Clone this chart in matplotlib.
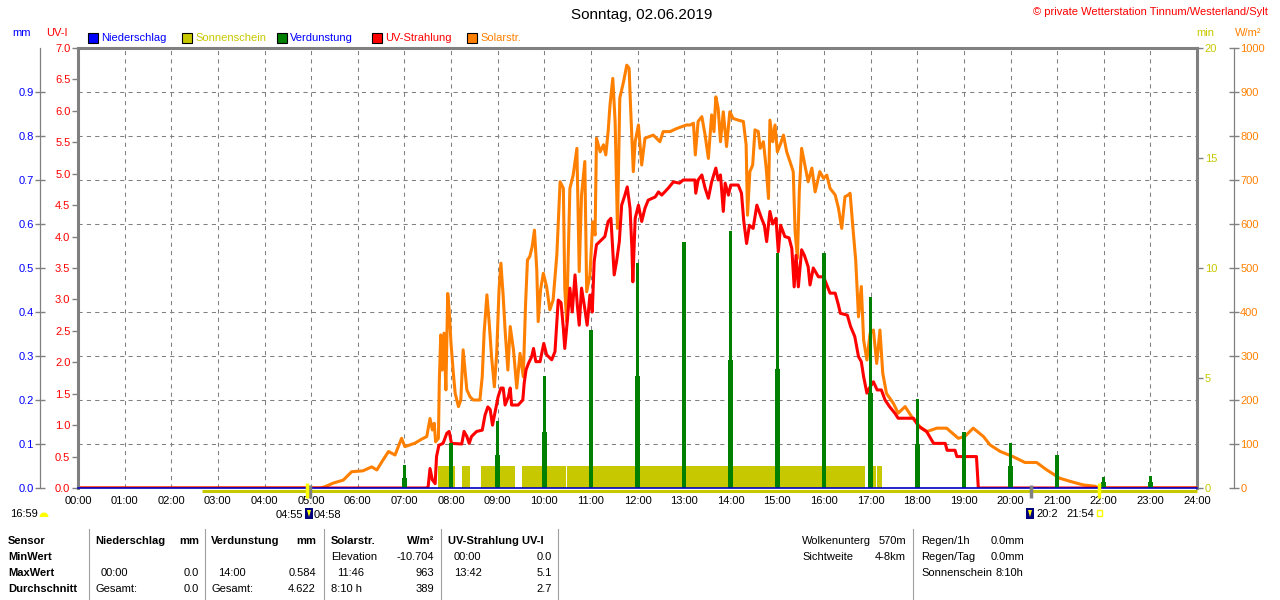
import matplotlib
matplotlib.use("Agg")
import matplotlib.pyplot as plt
import matplotlib.transforms as mtransforms
from matplotlib.lines import Line2D
from matplotlib.patches import Rectangle, Polygon, Wedge
from matplotlib.ticker import FormatStrFormatter
import numpy as np

plt.rcParams["font.family"] = ["Liberation Sans", "DejaVu Sans"]
plt.rcParams["font.size"] = 8

W, H = 1280, 600

BLUE = "#0000ff"
NAVY = "#0000c0"
SUN = "#c8c800"
GREEN = "#008000"
RED = "#ff0000"
ORANGE = "#ff8000"
GRAY = "#808080"

# ---- data, time in hours ----
hours = list(range(25))
hour_labels = ["%02d:00" % h for h in hours]

solar_t = [0.00, 5.20, 5.30, 5.47, 5.69, 5.87, 6.11, 6.30, 6.41, 6.52, 6.66, 6.80,
           6.94, 7.01, 7.23, 7.37, 7.48, 7.55, 7.60, 7.64, 7.67, 7.73, 7.75, 7.78,
           7.81, 7.85, 7.89, 7.93, 7.96, 8.00, 8.05, 8.09, 8.16, 8.21, 8.26, 8.30,
           8.34, 8.41, 8.48, 8.62, 8.67, 8.71, 8.77, 8.82, 8.87, 8.93, 8.98, 9.03,
           9.07, 9.12, 9.16, 9.22, 9.27, 9.34, 9.41, 9.48, 9.55, 9.60, 9.64, 9.69,
           9.74, 9.79, 9.84, 9.87, 9.92, 9.98, 10.05, 10.12, 10.19, 10.27, 10.34, 10.41,
           10.44, 10.48, 10.55, 10.62, 10.70, 10.75, 10.80, 10.87, 10.91, 10.98, 11.04, 11.09,
           11.12, 11.20, 11.27, 11.32, 11.37, 11.41, 11.47, 11.52, 11.57, 11.62, 11.70, 11.77,
           11.82, 11.85, 11.91, 11.95, 12.02, 12.09, 12.16, 12.34, 12.48, 12.55, 12.70, 12.84,
           13.05, 13.13, 13.20, 13.24, 13.30, 13.38, 13.45, 13.52, 13.59, 13.64, 13.68, 13.73,
           13.78, 13.84, 13.91, 13.98, 14.05, 14.16, 14.27, 14.33, 14.36, 14.41, 14.47, 14.52,
           14.59, 14.63, 14.70, 14.76, 14.81, 14.84, 14.90, 14.95, 15.00, 15.06, 15.13, 15.20,
           15.27, 15.34, 15.38, 15.43, 15.47, 15.52, 15.59, 15.66, 15.74, 15.81, 15.91, 15.99,
           16.06, 16.13, 16.24, 16.31, 16.38, 16.45, 16.52, 16.56, 16.63, 16.68, 16.74, 16.80,
           16.85, 16.92, 16.99, 17.06, 17.13, 17.20, 17.26, 17.34, 17.49, 17.59, 17.74, 17.88,
           18.06, 18.20, 18.42, 18.63, 18.88, 19.02, 19.20, 19.42, 19.56, 19.78, 20.06, 20.31,
           20.56, 20.78, 21.06, 21.35, 21.56, 21.81, 21.90, 24.00]
solar_wm2 = [0, 0, 3, 11, 18, 37, 39, 48, 41, 60, 83, 75,
             113, 94, 102, 111, 117, 158, 132, 147, 105, 113, 245, 348,
             268, 352, 223, 442, 405, 329, 261, 215, 185, 200, 314, 268,
             223, 207, 200, 200, 253, 352, 439, 374, 298, 230, 306, 450,
             511, 435, 359, 268, 367, 314, 227, 306, 253, 420, 518, 526,
             548, 586, 495, 378, 450, 488, 458, 405, 427, 530, 696, 681,
             454, 378, 681, 711, 772, 492, 666, 742, 446, 484, 605, 575,
             795, 764, 780, 757, 810, 870, 931, 833, 590, 886, 923, 961,
             954, 870, 719, 787, 825, 734, 795, 802, 787, 810, 810, 817,
             825, 825, 829, 757, 833, 844, 802, 749, 848, 810, 889, 863,
             787, 855, 776, 855, 840, 836, 833, 780, 620, 719, 734, 814,
             810, 772, 787, 727, 658, 836, 787, 825, 764, 780, 802, 764,
             742, 719, 583, 522, 673, 772, 734, 696, 727, 673, 719, 704,
             711, 681, 666, 636, 590, 662, 666, 670, 579, 518, 389, 458,
             336, 291, 352, 359, 283, 359, 261, 215, 192, 170, 185, 162,
             139, 128, 136, 136, 113, 117, 136, 117, 98, 83, 71, 58,
             58, 41, 22, 13, 7, 4, 0, 0]

uv_t = [0.00, 7.50, 7.51, 7.55, 7.60, 7.66, 7.69, 7.74, 7.83, 7.91, 7.96, 8.01,
        8.23, 8.28, 8.34, 8.39, 8.44, 8.55, 8.67, 8.73, 8.79, 8.84, 8.89, 8.94,
        9.01, 9.07, 9.12, 9.16, 9.23, 9.27, 9.30, 9.44, 9.54, 9.57, 9.61, 9.66,
        9.73, 9.77, 9.82, 9.91, 9.99, 10.05, 10.16, 10.23, 10.30, 10.36, 10.41, 10.44,
        10.50, 10.55, 10.60, 10.66, 10.71, 10.75, 10.80, 10.86, 10.92, 10.98, 11.03, 11.07,
        11.12, 11.23, 11.30, 11.37, 11.43, 11.50, 11.55, 11.61, 11.66, 11.73, 11.78, 11.84,
        11.88, 11.90, 11.95, 12.02, 12.09, 12.16, 12.23, 12.38, 12.45, 12.52, 12.66, 12.77,
        12.90, 12.98, 13.23, 13.25, 13.30, 13.38, 13.45, 13.52, 13.59, 13.68, 13.73, 13.78,
        13.84, 13.88, 13.95, 14.00, 14.16, 14.23, 14.28, 14.34, 14.40, 14.48, 14.56, 14.66,
        14.72, 14.77, 14.84, 14.90, 14.97, 15.02, 15.07, 15.16, 15.25, 15.31, 15.36, 15.40,
        15.45, 15.52, 15.58, 15.66, 15.70, 15.77, 15.88, 15.99, 16.06, 16.13, 16.24, 16.31,
        16.35, 16.50, 16.57, 16.66, 16.74, 16.80, 16.85, 16.92, 16.99, 17.06, 17.14, 17.23,
        17.31, 17.41, 17.52, 17.59, 17.92, 18.03, 18.20, 18.35, 18.60, 18.64, 18.81, 18.85,
        19.27, 19.30, 19.31, 24.00]
uv_index = [0.0, 0.0, 0.02, 0.31, 0.13, 0.07, 0.50, 0.68, 0.71, 0.87, 0.90, 0.71,
            0.70, 0.90, 0.82, 0.71, 0.82, 0.90, 0.92, 1.16, 1.29, 1.25, 1.00, 1.19,
            1.45, 1.59, 1.59, 1.32, 1.45, 1.59, 1.32, 1.32, 1.40, 1.67, 1.88, 1.98,
            2.09, 2.22, 2.01, 2.01, 2.30, 2.12, 2.04, 2.17, 2.99, 2.95, 2.54, 2.22,
            2.70, 3.18, 2.80, 3.39, 2.90, 2.59, 3.18, 2.90, 2.59, 3.07, 2.80, 3.60,
            3.87, 3.95, 4.00, 4.24, 4.29, 3.39, 3.60, 3.92, 4.50, 4.66, 4.79, 4.45,
            3.81, 3.28, 4.29, 4.50, 4.24, 4.45, 4.58, 4.63, 4.71, 4.66, 4.77, 4.87,
            4.85, 4.90, 4.90, 4.69, 4.90, 4.98, 4.77, 4.61, 4.87, 5.09, 4.90, 4.98,
            4.40, 4.85, 4.66, 4.82, 4.82, 4.69, 4.24, 3.89, 4.18, 4.13, 4.50, 4.29,
            4.18, 3.92, 4.40, 4.20, 4.29, 3.76, 4.18, 4.00, 3.98, 3.81, 3.20, 3.70,
            3.20, 3.79, 3.70, 3.52, 3.23, 3.50, 3.36, 3.36, 3.23, 3.10, 3.10, 2.91,
            2.78, 2.75, 2.57, 2.41, 2.09, 2.01, 1.77, 1.51, 1.61, 1.69, 1.56, 1.56,
            1.40, 1.29, 1.19, 1.11, 1.11, 0.98, 0.90, 0.71, 0.71, 0.60, 0.60, 0.50,
            0.50, 0.13, 0.0, 0.0]

evap_hours = [7, 8, 9, 10, 11, 12, 13, 14, 15, 16, 17, 18, 19, 20, 21, 22, 23]
evap_mm = [0.052, 0.103, 0.153, 0.255, 0.358, 0.511, 0.560, 0.584, 0.535,
           0.535, 0.433, 0.202, 0.128, 0.103, 0.075, 0.026, 0.027]
evap_step_mm = [0.023, 0.050, 0.075, 0.128, 0.180, 0.255, 0.280, 0.290, 0.270,
                0.270, 0.216, 0.100, 0.064, 0.050, 0.034, 0.013, 0.013]

sun_start = [7.72, 8.23, 8.65, 9.53, 10.49, 17.03, 17.14]
sun_end = [8.09, 8.41, 9.38, 10.47, 16.88, 17.11, 17.24]
sun_minutes = [1, 1, 1, 1, 1, 1, 1]

rain_t = [0, 24]
rain_mm = [0.0, 0.0]

daylight_t = [2.66, 24.0]
sun_marks = [4.917, 21.9]    # sunrise 04:55, sunset 21:54
moon_marks = [4.967, 20.45]  # 04:58, 20:2x

# pixel coordinates (from top-left) -> figure
pix = mtransforms.Affine2D().scale(1.0 / W, -1.0 / H).translate(0, 1)

fig = plt.figure(figsize=(W / 100, H / 100), dpi=100)
pix = pix + fig.transFigure
rect = [78 / W, 112 / H, 1119 / W, 440 / H]
ax_min = fig.add_axes(rect)
ax_sol = fig.add_axes(rect, sharex=ax_min)
ax_uv = fig.add_axes(rect, sharex=ax_min)
ax_mm = fig.add_axes(rect, sharex=ax_min)
for z, ax in enumerate([ax_min, ax_sol, ax_uv, ax_mm]):
    ax.set_zorder(z + 1)
    ax.patch.set_visible(False)
    for s in ax.spines.values():
        s.set_visible(False)

ax_min.set_xlim(0, 24)
ax_min.set_ylim(0, 20)
ax_sol.set_ylim(0, 1000)
ax_uv.set_ylim(0, 7)
ax_mm.set_ylim(0, 1)

# sunshine minutes (bottom layer) + grid
ax_min.bar(sun_start, sun_minutes, width=[e - s for s, e in zip(sun_start, sun_end)],
           align="edge", color=SUN, linewidth=0)
ax_min.set_xticks(hours)
ax_min.set_xticklabels(hour_labels)
ax_min.tick_params(axis="x", length=0, pad=5.5, labelsize=8)
ax_min.yaxis.tick_right()
ax_min.set_yticks([0, 5, 10, 15, 20])
ax_min.set_yticks(np.arange(0, 21, 2), minor=True)
ax_min.tick_params(axis="y", which="major", colors=GRAY, labelcolor=SUN,
                   length=4, width=1, pad=1.5, labelsize=8)
ax_min.tick_params(axis="y", which="minor", length=0)
ax_min.grid(axis="x", which="major", color=GRAY, lw=0.75, ls=(0, (4, 4)))
ax_min.yaxis.grid(True, which="minor", color=GRAY, lw=0.75, ls=(0, (4, 4)))
ax_min.yaxis.grid(False, which="major")
for side in ("top", "right"):
    ax_min.spines[side].set_visible(True)
    ax_min.spines[side].set_color(GRAY)
    ax_min.spines[side].set_linewidth(2.2)
off = mtransforms.offset_copy(ax_min.transData, fig=fig, x=0, y=-2.5, units="dots")
ax_min.plot(daylight_t, [0, 0], color=SUN, lw=2.2, transform=off, clip_on=False,
            solid_capstyle="butt")

# solar radiation
ax_sol.plot(solar_t, solar_wm2, color=ORANGE, lw=2.2)
ax_sol.yaxis.tick_right()
ax_sol.set_yticks(np.arange(0, 1001, 100))
ax_sol.tick_params(axis="y", direction="inout", length=7, width=1, colors=GRAY,
                   labelcolor=ORANGE, pad=1, labelsize=8)
ax_sol.tick_params(axis="x", bottom=False, labelbottom=False)
ax_sol.spines["right"].set_visible(True)
ax_sol.spines["right"].set_position(("outward", 26.6))
ax_sol.spines["right"].set_color(GRAY)
ax_sol.spines["right"].set_linewidth(0.9)

# UV index
ax_uv.plot(uv_t, uv_index, color=RED, lw=2.2)
ax_uv.set_yticks(np.arange(0, 7.01, 0.5))
ax_uv.yaxis.set_major_formatter(FormatStrFormatter("%.1f"))
ax_uv.tick_params(axis="y", colors=GRAY, labelcolor=RED, length=4, width=1, pad=1.5,
                  labelsize=8)
ax_uv.tick_params(axis="x", bottom=False, labelbottom=False)
ax_uv.spines["left"].set_visible(True)
ax_uv.spines["left"].set_color(GRAY)
ax_uv.spines["left"].set_linewidth(2.2)

# evaporation + precipitation (top layer)
ax_mm.bar(evap_hours, evap_step_mm, width=0.10, color=GREEN, linewidth=0)
ax_mm.bar(evap_hours, evap_mm, width=0.07, color=GREEN, linewidth=0)
ax_mm.plot(rain_t, rain_mm, color=NAVY, lw=1.2, clip_on=False)
ax_mm.set_yticks(np.arange(0, 0.91, 0.1))
ax_mm.yaxis.set_major_formatter(FormatStrFormatter("%.1f"))
ax_mm.tick_params(axis="y", direction="inout", length=7, width=1, colors=GRAY,
                  labelcolor=BLUE, pad=1, labelsize=8)
ax_mm.tick_params(axis="x", bottom=False, labelbottom=False)
ax_mm.spines["left"].set_visible(True)
ax_mm.spines["left"].set_position(("outward", 27.4))
ax_mm.spines["left"].set_color(GRAY)
ax_mm.spines["left"].set_linewidth(0.9)

mark_tr = mtransforms.blended_transform_factory(ax_mm.transData, ax_mm.transAxes)
for t in moon_marks:
    ax_mm.plot([t, t], [0.007, -0.022], color=GRAY, lw=2.5, transform=mark_tr,
               clip_on=False, solid_capstyle="butt")
for t in sun_marks:
    ax_mm.plot([t, t], [0.012, -0.022], color="#ffff00", lw=2.5, transform=mark_tr,
               clip_on=False, solid_capstyle="butt")

# ---- header ----
fig.text(642, 15, "Sonntag, 02.06.2019", transform=pix, ha="center", va="center",
         fontsize=11)
fig.text(1268, 12, "© private Wetterstation Tinnum/Westerland/Sylt", transform=pix,
         ha="right", va="center", color=RED)
fig.text(22, 33, "mm", transform=pix, ha="center", va="center", color=BLUE)
fig.text(57, 33, "UV-I", transform=pix, ha="center", va="center", color=RED)
fig.text(1205, 33, "min", transform=pix, ha="center", va="center", color=SUN)
fig.text(1248, 33, "W/m²", transform=pix, ha="center", va="center", color=ORANGE)

legend_items = [("Niederschlag", BLUE, BLUE, 88), ("Sonnenschein", SUN, SUN, 182),
                ("Verdunstung", GREEN, BLUE, 277), ("UV-Strahlung", RED, RED, 372),
                ("Solarstr.", ORANGE, ORANGE, 467)]
for name, box_col, txt_col, x in legend_items:
    fig.patches.append(Rectangle((x, 33), 10, 10, transform=pix, facecolor=box_col,
                                 edgecolor="black", lw=0.8))
    fig.text(x + 13, 38, name, transform=pix, ha="left", va="center", color=txt_col)

# ---- sun / moon times under the axis ----
fig.text(10, 514, "16:59", transform=pix, ha="left", va="center")
fig.patches.append(Wedge((44, 517), 4.5, 180, 360, transform=pix, facecolor="#ffff00",
                         edgecolor="none"))
fig.text(303, 515, "04:55", transform=pix, ha="right", va="center")
fig.text(314, 515, "04:58", transform=pix, ha="left", va="center")
fig.text(1036, 514, "20:2", transform=pix, ha="left", va="center")
fig.text(1066, 514, "21:54", transform=pix, ha="left", va="center")
for x in (305, 1026):
    fig.patches.append(Rectangle((x, 508), 8, 11, transform=pix, facecolor="#000080",
                                 edgecolor="none"))
    fig.patches.append(Polygon([(x + 2, 510), (x + 6, 510), (x + 4, 517)], closed=True,
                               transform=pix, facecolor="#ffff00", edgecolor="none"))
fig.patches.append(Rectangle((1097, 510), 5, 6, transform=pix, facecolor="none",
                             edgecolor="#ffff00", lw=1))

# ---- statistics table ----
r0, r1, r2, r3 = 541, 557, 573, 589
table = [
    ("Sensor", 8, r0, "left", True), ("MinWert", 8, r1, "left", True),
    ("MaxWert", 8, r2, "left", True), ("Durchschnitt", 8, r3, "left", True),
    ("Niederschlag", 95, r0, "left", True), ("mm", 199, r0, "right", True),
    ("00:00", 101, r2, "left", False), ("0.0", 199, r2, "right", False),
    ("Gesamt:", 95, r3, "left", False), ("0.0", 199, r3, "right", False),
    ("Verdunstung", 211, r0, "left", True), ("mm", 316, r0, "right", True),
    ("14:00", 218, r2, "left", False), ("0.584", 316, r2, "right", False),
    ("Gesamt:", 211, r3, "left", False), ("4.622", 316, r3, "right", False),
    ("Solarstr.", 331, r0, "left", True), ("W/m²", 434, r0, "right", True),
    ("Elevation", 331, r1, "left", False), ("-10.704", 434, r1, "right", False),
    ("11:46", 337, r2, "left", False), ("963", 434, r2, "right", False),
    ("8:10 h", 331, r3, "left", False), ("389", 434, r3, "right", False),
    ("UV-Strahlung UV-I", 448, r0, "left", True),
    ("00:00", 454, r1, "left", False), ("0.0", 552, r1, "right", False),
    ("13:42", 454, r2, "left", False), ("5.1", 552, r2, "right", False),
    ("2.7", 552, r3, "right", False),
    ("Wolkenunterg", 802, r0, "left", False), ("570m", 906, r0, "right", False),
    ("Sichtweite", 802, r1, "left", False), ("4-8km", 906, r1, "right", False),
    ("Regen/1h", 921, r0, "left", False), ("0.0mm", 991, r0, "left", False),
    ("Regen/Tag", 921, r1, "left", False), ("0.0mm", 991, r1, "left", False),
    ("Sonnenschein", 921, r2, "left", False), ("8:10h", 995, r2, "left", False),
]
for txt, x, y, ha, bold in table:
    fig.text(x, y, txt, transform=pix, ha=ha, va="center",
             fontweight="bold" if bold else "normal")
for x in (89, 205, 324, 441, 558, 913):
    fig.add_artist(Line2D([x, x], [529, 600], transform=pix, color="#a0a0a0", lw=0.8))

fig.savefig("out.png", dpi=100)
